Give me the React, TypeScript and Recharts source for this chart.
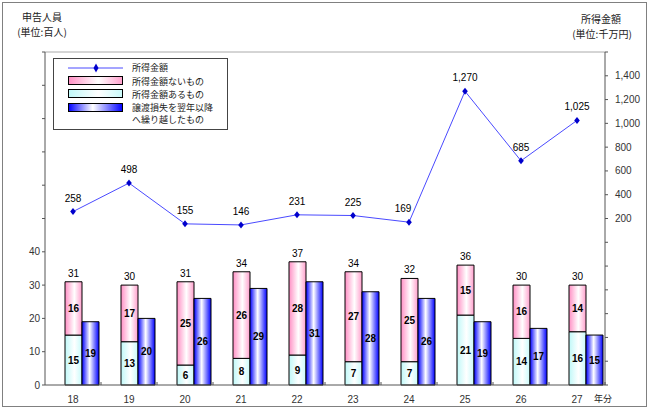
import React from "react";
import {
  ComposedChart,
  Bar,
  Line,
  XAxis,
  YAxis,
  LabelList,
  ReferenceLine,
} from "recharts";

// 年分 (平成)
const years = ["18", "19", "20", "21", "22", "23", "24", "25", "26", "27"];
// 申告人員 (百人)
const noIncome = [16, 17, 25, 26, 28, 27, 25, 15, 16, 14];
const withIncome = [15, 13, 6, 8, 9, 7, 7, 21, 14, 16];
const totals = [31, 30, 31, 34, 37, 34, 32, 36, 30, 30];
const carryOver = [19, 20, 26, 29, 31, 28, 26, 19, 17, 15];
// 所得金額 (千万円)
const incomeAmount = [258, 498, 155, 146, 231, 225, 169, 1270, 685, 1025];

const leftTicks = [0, 10, 20, 30, 40, 50, 60, 70, 80, 90, 100];
const rightTicks = [
  -1200, -1000, -800, -600, -400, -200, 0, 200, 400, 600, 800, 1000, 1200,
  1400, 1600,
];

const data = years.map((year, i) => ({
  year,
  spacer: 0,
  withIncome: withIncome[i],
  noIncome: noIncome[i],
  total: totals[i],
  carryOver: carryOver[i],
  amount: incomeAmount[i],
}));

const fmt = (v: number) => String(v).replace(/\B(?=(\d{3})+(?!\d))/g, ",");

const FONT = "'Liberation Sans', Arial, sans-serif";
const JP = "'Noto Sans CJK JP', sans-serif";

const Diamond = (props: any) => {
  const { cx, cy, index } = props;
  if (cx == null || cy == null) return <g key={index} />;
  return (
    <path
      key={index}
      d={`M${cx},${cy - 3.5} L${cx + 2.8},${cy} L${cx},${cy + 3.5} L${cx - 2.8},${cy} Z`}
      fill="#0000cc"
    />
  );
};

// category label plus a small inward tick at the band boundary (Excel style)
const YearTick = (props: any) => {
  const { x, y, payload } = props;
  const axisY = 385;
  return (
    <g>
      <line x1={x + 28} x2={x + 28} y1={axisY - 3} y2={axisY} stroke="#555" />
      <text
        x={x}
        y={y}
        dy={8}
        textAnchor="middle"
        fontSize={10}
        fill="#333"
        fontFamily={FONT}
      >
        {payload.value}
      </text>
    </g>
  );
};

// 169 sits a bit left of its point in the original so it clears the rising line
const AmountLabel = (props: any) => {
  const { x, y, width, value, index } = props;
  const cx = x + (width || 0) / 2 - (index === 6 ? 6 : 0);
  return (
    <text
      x={cx}
      y={y - 10}
      textAnchor="middle"
      fontSize={10}
      fill="#000"
      fontFamily={FONT}
    >
      {fmt(Number(value))}
    </text>
  );
};

function Gradients({ prefix }: { prefix: string }) {
  return (
    <defs>
      <linearGradient id={`${prefix}pink`} x1="0" y1="0" x2="1" y2="0">
        <stop offset="0%" stopColor="#ff8fc4" />
        <stop offset="55%" stopColor="#ffffff" />
        <stop offset="100%" stopColor="#ff9fcc" />
      </linearGradient>
      <linearGradient id={`${prefix}cyan`} x1="0" y1="0" x2="1" y2="0">
        <stop offset="0%" stopColor="#bff8f8" />
        <stop offset="55%" stopColor="#ffffff" />
        <stop offset="100%" stopColor="#c8fafa" />
      </linearGradient>
      <linearGradient id={`${prefix}blue`} x1="0" y1="0" x2="1" y2="0">
        <stop offset="0%" stopColor="#0000ff" />
        <stop offset="45%" stopColor="#ffffff" />
        <stop offset="100%" stopColor="#0000ff" />
      </linearGradient>
    </defs>
  );
}

const valueLabel = { fontSize: 10, fill: "#000", fontFamily: FONT, fontWeight: 600 };

export default function App() {
  return (
    <div
      style={{
        position: "absolute",
        left: 0,
        top: 0,
        width: 650,
        height: 411,
        background: "#fff",
      }}
    >
      <ComposedChart
        width={650}
        height={411}
        data={data}
        margin={{ top: 52, right: 0, bottom: 0, left: 0 }}
        barGap={0}
        barSize={17}
      >
        <Gradients prefix="c-" />
        <XAxis
          dataKey="year"
          height={26}
          axisLine={{ stroke: "#555" }}
          tickLine={false}
          tick={<YearTick />}
          tickMargin={4}
        />
        <YAxis
          yAxisId="left"
          width={45}
          domain={[0, 100]}
          ticks={leftTicks}
          interval={0}
          axisLine={{ stroke: "#555" }}
          tickLine={{ stroke: "#555" }}
          tickSize={3}
          tick={{ fontSize: 10, fill: "#333", fontFamily: FONT }}
          tickFormatter={(v: number) => (v <= 40 ? String(v) : "")}
        />
        <YAxis
          yAxisId="right"
          orientation="right"
          width={45}
          domain={[-1200, 1600]}
          ticks={rightTicks}
          interval={0}
          axisLine={{ stroke: "#555" }}
          tickLine={{ stroke: "#555" }}
          tickSize={3}
          tickMargin={7}
          tick={{ fontSize: 10, fill: "#333", fontFamily: FONT }}
          tickFormatter={(v: number) =>
            v >= 200 && v <= 1400 ? fmt(v) : ""
          }
        />
        <ReferenceLine yAxisId="left" y={100} stroke="#aaa" />
        <Bar
          yAxisId="left"
          dataKey="spacer"
          stackId="s"
          fill="transparent"
          isAnimationActive={false}
        />
        <Bar
          yAxisId="left"
          dataKey="withIncome"
          stackId="a"
          fill="url(#c-cyan)"
          stroke="#000"
          strokeWidth={1}
          isAnimationActive={false}
        >
          <LabelList dataKey="withIncome" position="center" style={valueLabel} />
        </Bar>
        <Bar
          yAxisId="left"
          dataKey="noIncome"
          stackId="a"
          fill="url(#c-pink)"
          stroke="#000"
          strokeWidth={1}
          isAnimationActive={false}
        >
          <LabelList dataKey="noIncome" position="center" style={valueLabel} />
          <LabelList
            dataKey="total"
            position="top"
            offset={5}
            style={{ fontSize: 10, fill: "#000", fontFamily: FONT }}
          />
        </Bar>
        <Bar
          yAxisId="left"
          dataKey="carryOver"
          stackId="c"
          fill="url(#c-blue)"
          stroke="#000"
          strokeWidth={1}
          isAnimationActive={false}
        >
          <LabelList dataKey="carryOver" position="center" style={valueLabel} />
        </Bar>
        <Line
          yAxisId="right"
          dataKey="amount"
          stroke="#4a4aff"
          strokeWidth={1}
          dot={Diamond}
          activeDot={false}
          isAnimationActive={false}
        >
          <LabelList dataKey="amount" content={<AmountLabel />} />
        </Line>
      </ComposedChart>

      <svg
        width={650}
        height={411}
        style={{ position: "absolute", left: 0, top: 0, pointerEvents: "none" }}
      >
        <Gradients prefix="l-" />
        <rect x={2.5} y={2.5} width={644} height={404} fill="none" stroke="#808080" />
        <g fontFamily={JP} fontSize={10} fill="#222" textAnchor="middle">
          <text x={42} y={21}>申告人員</text>
          <text x={42} y={36}>(単位:百人)</text>
          <text x={601} y={23}>所得金額</text>
          <text x={602} y={38}>(単位:千万円)</text>
        </g>
        <text x={603} y={402} fontFamily={JP} fontSize={9} fill="#222" textAnchor="middle">
          年分
        </text>
        <g>
          <rect x={53.5} y={58.5} width={174} height={71} fill="#fff" stroke="#444" />
          <line x1={68} y1={68} x2={123} y2={68} stroke="#4a4aff" />
          <path d="M96,63.5 L98.5,68 L96,72.5 L93.5,68 Z" fill="#0000cc" />
          <rect x={68.5} y={76.5} width={54} height={8} fill="url(#l-pink)" stroke="#000" />
          <rect x={68.5} y={89.5} width={54} height={8} fill="url(#l-cyan)" stroke="#000" />
          <rect x={68.5} y={103.5} width={54} height={8} fill="url(#l-blue)" stroke="#000" />
          <g fontFamily={JP} fontSize={9} fill="#222">
            <text x={132} y={71}>所得金額</text>
            <text x={132} y={84.5}>所得金額ないもの</text>
            <text x={132} y={98}>所得金額あるもの</text>
            <text x={132} y={111}>譲渡損失を翌年以降</text>
            <text x={132} y={123}>へ繰り越したもの</text>
          </g>
        </g>
      </svg>
    </div>
  );
}
